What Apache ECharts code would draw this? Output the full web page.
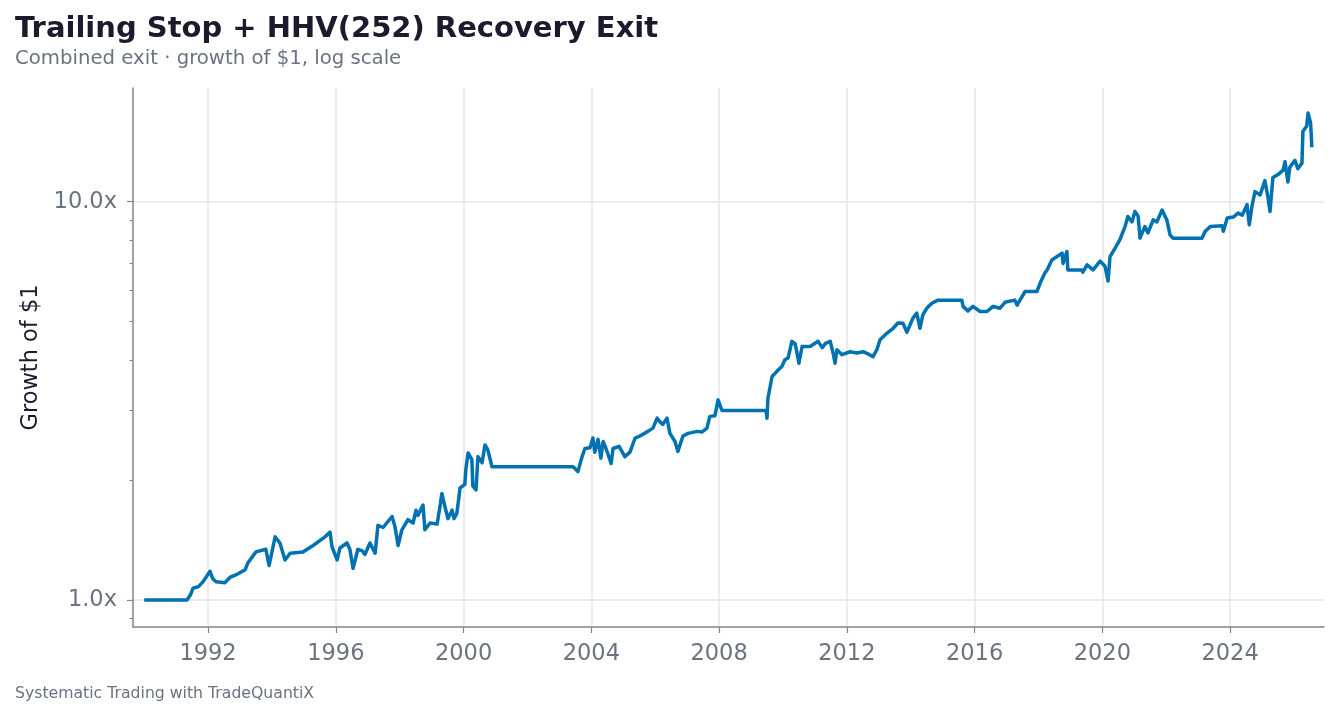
<!DOCTYPE html>
<html><head><meta charset="utf-8">
<script src="https://cdn.jsdelivr.net/npm/echarts@6/dist/echarts.min.js"></script>
<style>html,body{margin:0;padding:0;background:#fff}#c{width:1339px;height:717px}</style>
</head><body><div id="c"></div>
<script>
const years1990s = [
  1990.00,1991.34,1991.37,1991.45,1991.53,1991.70,1991.84,1992.06,1992.15,1992.25,
  1992.53,1992.69,1992.87,1993.16,1993.25,1993.50,1993.81,1993.91,1994.10,1994.25,
  1994.41,1994.57,1994.97,1995.29,1995.66,1995.82,1995.88,1996.04,1996.13,1996.35,
  1996.44,1996.54,1996.69,1996.82,1996.91,1997.07,1997.23,1997.32,1997.48,1997.76,
  1997.85,1997.95,1998.07,1998.26,1998.42,1998.51,1998.57,1998.73,1998.79,1998.95,
  1999.17,1999.26,1999.32,1999.42,1999.51,1999.64,1999.70,1999.79,1999.89];
const growth1990s = [
  1.00,1.00,0.99,1.03,1.07,1.08,1.11,1.18,1.13,1.11,
  1.105,1.14,1.155,1.19,1.24,1.32,1.34,1.22,1.44,1.39,
  1.26,1.31,1.32,1.37,1.44,1.48,1.36,1.26,1.35,1.39,
  1.34,1.20,1.34,1.33,1.30,1.39,1.31,1.54,1.52,1.62,
  1.53,1.37,1.50,1.59,1.56,1.68,1.63,1.73,1.50,1.56,
  1.55,1.71,1.85,1.71,1.60,1.68,1.60,1.65,1.91];
const years2000s = [
  2000.04,2000.07,2000.14,2000.26,2000.29,2000.39,2000.45,2000.58,2000.67,2000.76,
  2000.89,2003.43,2003.58,2003.71,2003.80,2003.96,2004.05,2004.11,2004.21,2004.30,
  2004.37,2004.46,2004.62,2004.68,2004.87,2005.05,2005.21,2005.37,2005.52,2005.77,
  2005.93,2006.06,2006.15,2006.24,2006.37,2006.46,2006.62,2006.71,2006.87,2007.03,
  2007.31,2007.46,2007.62,2007.71,2007.87,2007.97,2008.09,2009.47,2009.50,2009.53,
  2009.66,2009.81,2009.97];
const growth2000s = [
  1.95,2.12,2.34,2.25,1.93,1.89,2.29,2.21,2.45,2.38,
  2.16,2.16,2.10,2.29,2.40,2.41,2.55,2.35,2.53,2.27,
  2.50,2.40,2.20,2.40,2.43,2.29,2.35,2.55,2.58,2.65,
  2.70,2.86,2.80,2.76,2.86,2.62,2.50,2.36,2.58,2.62,
  2.65,2.64,2.70,2.89,2.90,3.18,2.99,2.99,2.86,3.21,
  3.64,3.75,3.86];
const years2010s = [
  2010.06,2010.16,2010.28,2010.38,2010.44,2010.50,2010.60,2010.85,2011.10,2011.23,
  2011.32,2011.48,2011.57,2011.63,2011.69,2011.85,2012.10,2012.32,2012.51,2012.66,
  2012.82,2012.94,2013.04,2013.26,2013.45,2013.60,2013.76,2013.88,2014.07,2014.19,
  2014.29,2014.38,2014.51,2014.66,2014.85,2015.60,2015.64,2015.79,2015.95,2016.17,
  2016.39,2016.58,2016.79,2016.95,2017.26,2017.33,2017.58,2017.95,2018.05,2018.20,
  2018.27,2018.42,2018.74,2018.77,2018.89,2018.92,2019.36,2019.39,2019.52,2019.71,
  2019.93];
const growth2010s = [
  4.01,4.05,4.46,4.40,4.17,3.93,4.33,4.33,4.46,4.30,
  4.40,4.46,4.17,3.93,4.25,4.13,4.20,4.17,4.20,4.15,
  4.08,4.25,4.50,4.68,4.81,4.96,4.95,4.70,5.10,5.25,
  4.81,5.20,5.41,5.56,5.66,5.66,5.46,5.32,5.46,5.30,
  5.30,5.46,5.40,5.59,5.66,5.50,5.95,5.95,6.24,6.62,
  6.74,7.14,7.43,7.00,7.50,6.74,6.74,6.65,6.94,6.74,
  7.09];
const years2020s = [
  2020.08,2020.18,2020.24,2020.40,2020.55,2020.71,2020.80,2020.93,2021.02,2021.12,
  2021.18,2021.33,2021.43,2021.59,2021.71,2021.87,2022.02,2022.12,2022.21,2023.12,
  2023.22,2023.38,2023.75,2023.79,2023.91,2024.10,2024.25,2024.38,2024.53,2024.60,
  2024.69,2024.78,2024.94,2025.09,2025.19,2025.25,2025.34,2025.50,2025.66,2025.72,
  2025.81,2025.87,2026.03,2026.12,2026.25,2026.28,2026.40,2026.44,2026.52,2026.56];
const growth2020s = [
  6.90,6.32,7.28,7.65,8.03,8.66,9.18,8.90,9.45,9.20,
  8.10,8.66,8.35,9.00,8.90,9.53,9.00,8.26,8.10,8.10,
  8.43,8.66,8.70,8.43,9.10,9.15,9.36,9.25,9.83,8.75,
  9.80,10.6,10.4,11.3,10.2,9.45,11.5,11.7,12.0,12.6,
  11.2,12.2,12.7,12.1,12.5,15.0,15.5,16.7,15.8,13.7];
const yearTicks = [1992,1996,2000,2004,2008,2012,2016,2020,2024];
const majorTicks = [1,10];
const minorTicks = [0.9,2,3,4,5,6,7,8,9];

const years = [].concat(years1990s, years2000s, years2010s, years2020s);
const growth = [].concat(growth1990s, growth2000s, growth2010s, growth2020s);
const seriesData = years.map((y, i) => [y, growth[i]]);

const axisColor = '#7f8490';
const labelColor = '#6b7280';
const gridColor = '#e5e6ea';
const fontFamily = 'DejaVu Sans';
const yMin = 0.855, yMax = 19.3;

const chart = echarts.init(document.getElementById('c'), null, {renderer: 'canvas'});
chart.setOption({
  backgroundColor: '#ffffff',
  animation: false,
  textStyle: {fontFamily: fontFamily},
  title: [
    {text: 'Trailing Stop + HHV(252) Recovery Exit', left: 10, top: 10,
     textStyle: {fontFamily: fontFamily, fontSize: 29, fontWeight: 'bold', color: '#1c1b2e'}},
    {text: 'Combined exit · growth of $1, log scale', left: 10, top: 44,
     textStyle: {fontFamily: fontFamily, fontSize: 19.7, fontWeight: 'normal', color: labelColor}},
    {text: 'Systematic Trading with TradeQuantiX', left: 10, top: 681,
     textStyle: {fontFamily: fontFamily, fontSize: 15.7, fontWeight: 'normal', color: labelColor}}
  ],
  grid: {left: 133, right: 15, top: 88, bottom: 90, containLabel: false},
  xAxis: {
    type: 'value', min: 1989.65, max: 2026.94,
    axisLine: {show: true, lineStyle: {color: axisColor, width: 1.5}},
    axisTick: {show: true, length: 6, customValues: yearTicks, lineStyle: {color: axisColor, width: 1.2}},
    axisLabel: {customValues: yearTicks, color: labelColor, fontSize: 22.5, fontFamily: fontFamily, margin: 16, formatter: v => String(Math.round(v))},
    splitLine: {show: true, lineStyle: {color: gridColor, width: 1.5}}
  },
  yAxis: [
    {
      type: 'log', logBase: 10, min: yMin, max: yMax,
      name: 'Growth of $1', nameLocation: 'middle', nameGap: 88.5, nameRotate: 90,
      nameTextStyle: {fontFamily: fontFamily, fontSize: 22.5, color: '#1c1b2e'},
      axisLine: {show: true, lineStyle: {color: axisColor, width: 1.5}},
      axisTick: {show: true, length: 6, customValues: majorTicks, lineStyle: {color: axisColor, width: 1.2}},
      axisLabel: {customValues: majorTicks, color: labelColor, fontSize: 22.5, fontFamily: fontFamily, margin: 16, padding: [4, 0, 0, 0], formatter: v => v.toFixed(1) + 'x'},
      splitLine: {show: true, lineStyle: {color: gridColor, width: 1.5}},
      minorTick: {show: false}
    },
    {
      type: 'log', logBase: 10, min: yMin, max: yMax, position: 'left',
      axisLine: {show: false},
      axisTick: {show: true, length: 3.5, customValues: minorTicks, lineStyle: {color: axisColor, width: 1}},
      axisLabel: {show: false},
      splitLine: {show: false}
    }
  ],
  series: [{
    type: 'line', data: seriesData, yAxisIndex: 0,
    showSymbol: false, symbol: 'none', smooth: false,
    lineStyle: {color: '#0072b2', width: 3.5, join: 'round'},
    itemStyle: {color: '#0072b2'}
  }]
});
</script></body></html>
